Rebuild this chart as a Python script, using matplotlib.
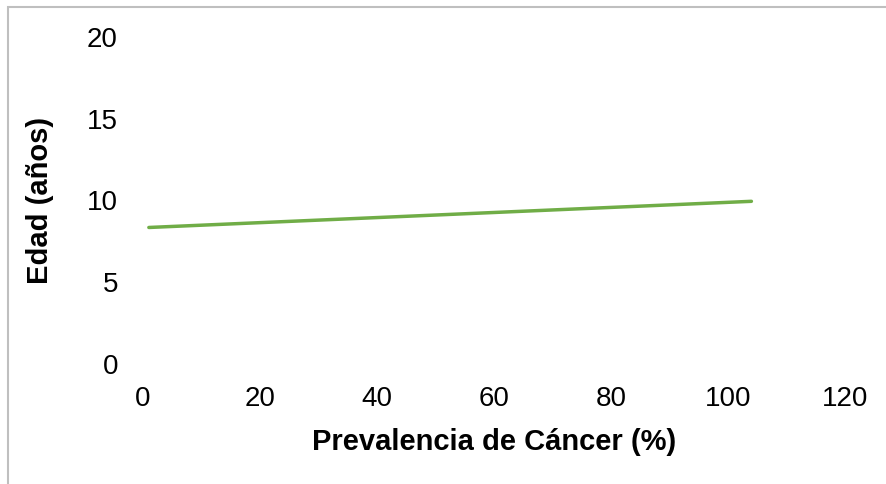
import matplotlib.pyplot as plt
from matplotlib.patches import Rectangle

# data (trend line end points)
prevalencia = [1, 104]
edad = [8.35, 9.95]

x_ticks = [0, 20, 40, 60, 80, 100, 120]
y_ticks = [0, 5, 10, 15, 20]

plt.rcParams['font.family'] = ['Liberation Sans', 'DejaVu Sans']

fig = plt.figure(figsize=(8.87, 4.84), dpi=100)
ax = fig.add_axes([143 / 887, 120 / 484, 702 / 887, 327 / 484])

ax.plot(prevalencia, edad, color='#70AD47', linewidth=2.5, solid_capstyle='round')

ax.set_xlim(0, 120)
ax.set_ylim(0, 20)
ax.set_xticks(x_ticks)
ax.set_yticks(y_ticks)
ax.tick_params(length=0, labelsize=20)
ax.tick_params(axis='x', pad=16)
ax.tick_params(axis='y', pad=18)
for s in ax.spines.values():
    s.set_visible(False)

ax.set_xlabel('Prevalencia de Cáncer (%)', fontsize=21, fontweight='bold', labelpad=11)
ax.set_ylabel('Edad (años)', fontsize=21, fontweight='bold', labelpad=24)

# chart area border (only top and left edges are visible in the crop)
fig.patches.append(Rectangle((8 / 887, -0.1), 1.2, 1.1 - 7 / 484,
                             transform=fig.transFigure, fill=False,
                             edgecolor='#BFBFBF', linewidth=1.5))

fig.savefig('out.png', dpi=100)
